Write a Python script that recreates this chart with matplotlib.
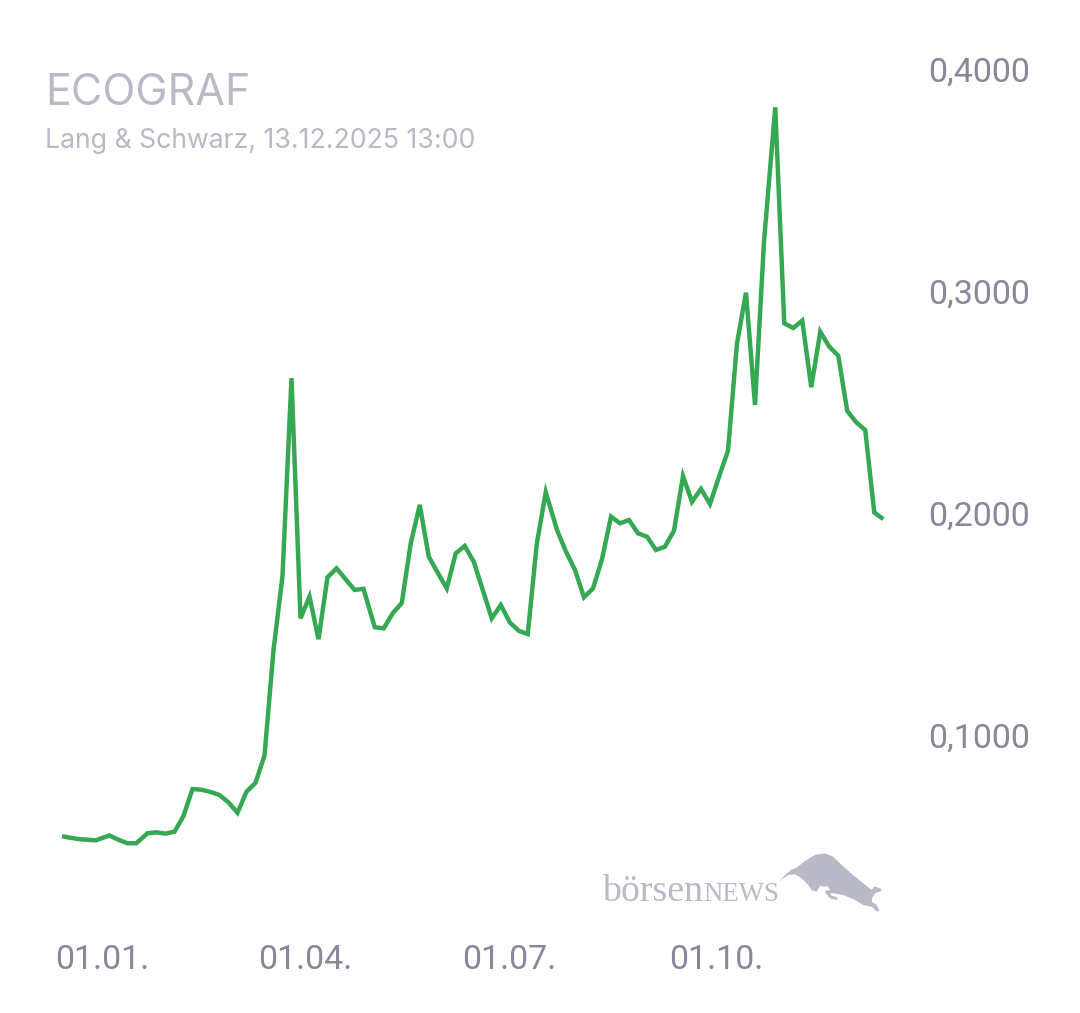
import matplotlib
matplotlib.use("Agg")
import matplotlib.pyplot as plt
from matplotlib.patches import Polygon
from matplotlib.transforms import ScaledTranslation

# tage seit 01.01.
days = [-18, -14, -10, -3, 3, 7, 11, 15, 20, 24, 28, 32, 36, 40, 44, 48, 52, 56, 60, 64,
        68, 72, 76, 80, 84, 88, 92, 96, 100, 104, 108, 112, 116, 121, 125, 129, 133, 137, 141, 145,
        149, 153, 157, 161, 165, 169, 173, 177, 181, 185, 189, 193, 197, 202, 206, 210, 214, 218, 222, 226,
        230, 234, 238, 242, 246, 250, 254, 258, 262, 266, 270, 274, 278, 282, 286, 290, 294, 299, 303, 307,
        311, 315, 319, 323, 327, 331, 335, 339, 343, 347]
kurs = [0.0549, 0.0541, 0.0535, 0.0530, 0.0552, 0.0533, 0.0517, 0.0517, 0.0562, 0.0566,
        0.0560, 0.0569, 0.0640, 0.0761, 0.0758, 0.0748, 0.0734, 0.0701, 0.0654, 0.0749,
        0.0789, 0.0912, 0.1387, 0.1721, 0.2612, 0.1530, 0.1628, 0.1436, 0.1715, 0.1755,
        0.1707, 0.1658, 0.1663, 0.1490, 0.1485, 0.1553, 0.1599, 0.1868, 0.2041, 0.1808,
        0.1735, 0.1665, 0.1823, 0.1856, 0.1785, 0.1658, 0.1530, 0.1590, 0.1512, 0.1474,
        0.1459, 0.1864, 0.2098, 0.1928, 0.1830, 0.1748, 0.1625, 0.1665, 0.1796, 0.1988,
        0.1958, 0.1973, 0.1913, 0.1898, 0.1838, 0.1853, 0.1925, 0.2171, 0.2055, 0.2113,
        0.2045, 0.2168, 0.2285, 0.2769, 0.2997, 0.2491, 0.3227, 0.3832, 0.2859, 0.2838,
        0.2871, 0.2571, 0.2821, 0.2754, 0.2713, 0.2464, 0.2413, 0.2378, 0.2007, 0.1977]

tick_days = [0, 90, 181, 273]
tick_labels = ["01.01.", "01.04.", "01.07.", "01.10."]
y_ticks = [0.1, 0.2, 0.3, 0.4]
y_labels = ["0,1000", "0,2000", "0,3000", "0,4000"]

W, H = 1080, 1013
fig = plt.figure(figsize=(W / 100, H / 100), dpi=100, facecolor="white")

# achse in pixeln der vorlage
left, right, top, bottom = 40, 900, 60, 925
ax = fig.add_axes([left / W, 1 - bottom / H, (right - left) / W, (bottom - top) / H])
ax.set_xlim((left - 102.5) / 2.25, (right - 102.5) / 2.25)
ax.set_ylim((958 - bottom) / 2220, (958 - top) / 2220)
ax.patch.set_visible(False)
for s in ax.spines.values():
    s.set_visible(False)

ax.plot(days, kurs, color="#34a853", lw=3.2, solid_joinstyle="miter", solid_capstyle="butt")

tick_color = "#88889b"
ax.yaxis.tick_right()
ax.set_yticks(y_ticks, y_labels, family="Roboto", fontsize=24.5, color=tick_color)
ax.set_xticks(tick_days, tick_labels, family="Roboto", fontsize=24.5, color=tick_color)
ax.tick_params(axis="y", length=0, pad=20.5)
ax.tick_params(axis="x", length=0, pad=13.5)
# beschriftung rechts 1 px nach oben
for lab in ax.get_yticklabels():
    lab.set_transform(lab.get_transform() + ScaledTranslation(0, 1 / 100, fig.dpi_scale_trans))

title_color = "#b9b9c7"
fig.text(45 / W, 1 - 105 / H, "ECOGRAF", family="Inter", fontsize=31, color=title_color)
fig.text(45 / W, 1 - 148 / H, "Lang & Schwarz, 13.12.2025 13:00", family="Inter", fontsize=19.2, color=title_color)

# logo
fig.text(602 / W, 1 - 901 / H, "börsen", family="Liberation Serif", fontsize=27.3, color=title_color)
fig.text(703 / W, 1 - 901 / H, "NEWS", family="Liberation Serif", fontsize=19.3, color=title_color)
# umriss aus dem 3x-ausschnitt (775, 845)
bull = [(15, 108), (30, 90), (48, 75), (65, 68), (90, 48), (120, 30), (150, 25), (175, 35), (200, 60),
        (240, 95), (290, 135), (298, 124), (320, 132), (318, 138), (300, 145), (292, 158), (290, 170),
        (305, 180), (313, 197), (305, 200), (290, 185), (265, 180), (240, 165), (205, 150), (175, 145),
        (165, 145), (170, 152), (188, 158), (185, 165), (165, 160), (152, 145), (150, 138), (165, 135),
        (160, 125), (135, 123), (125, 140), (110, 135), (100, 120), (80, 100), (60, 88), (40, 90), (25, 100)]
fig.add_artist(Polygon([((775 + x / 3) / W, 1 - (845 + y / 3) / H) for x, y in bull], closed=True,
                       transform=fig.transFigure, facecolor=title_color, edgecolor="none"))

fig.savefig("out.png", dpi=100)
